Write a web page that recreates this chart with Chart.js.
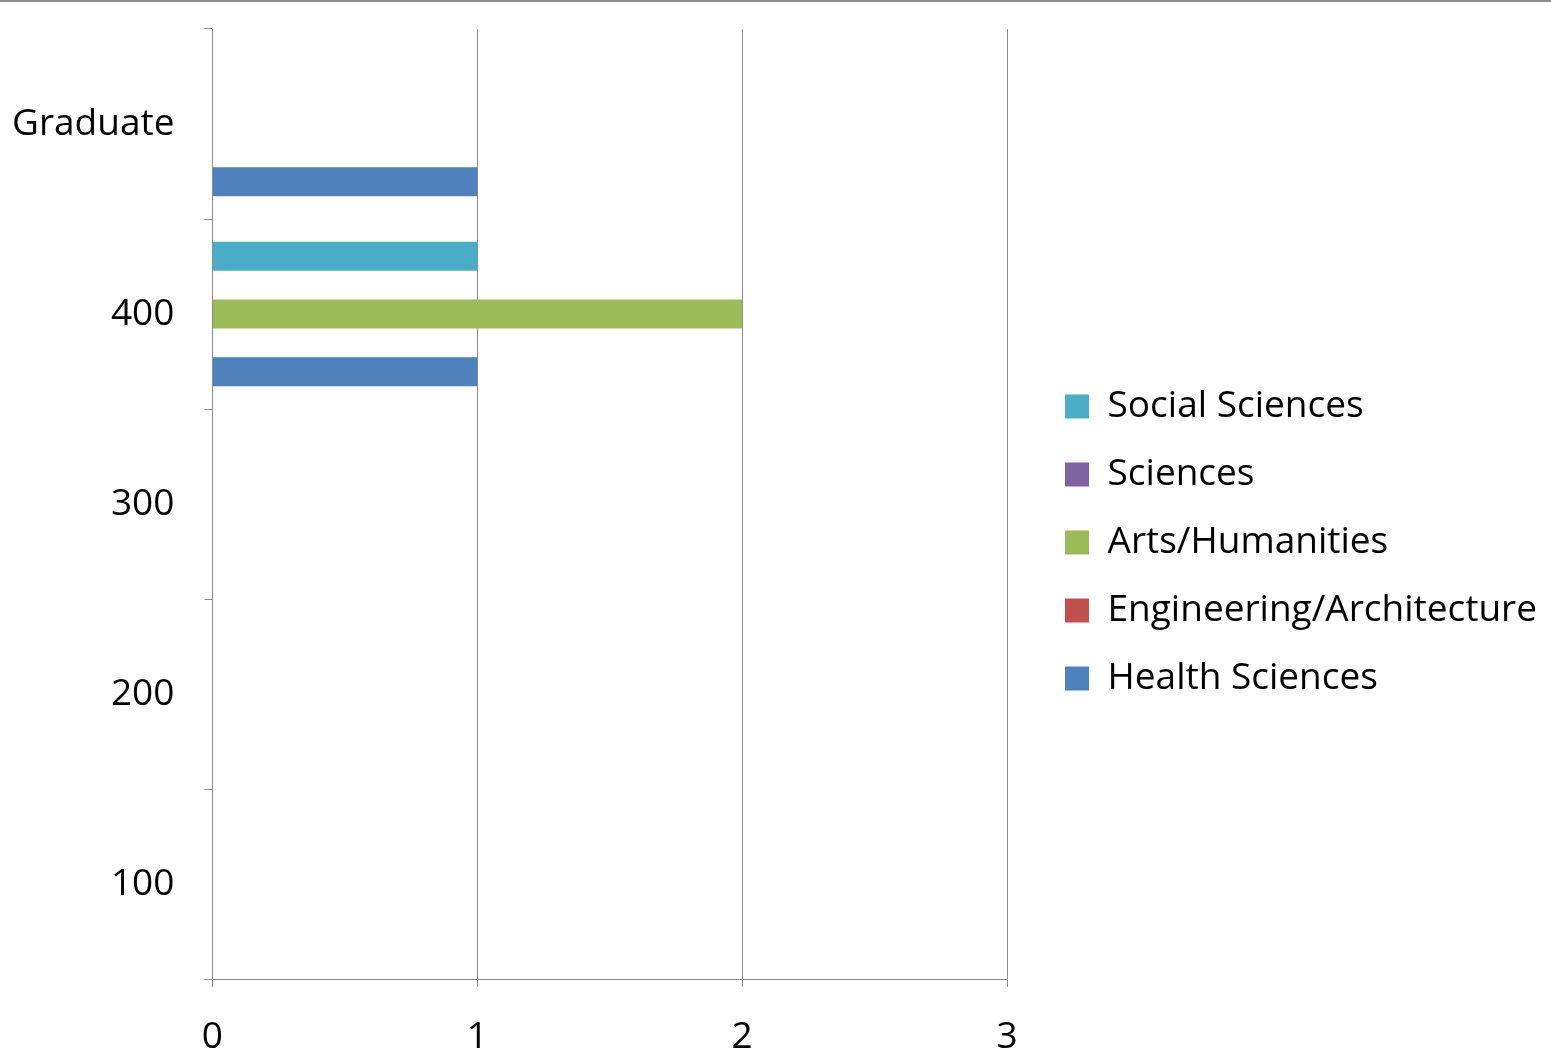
<!DOCTYPE html>
<html>
<head>
    <title>Courses by Level</title>
    <script src="https://cdn.jsdelivr.net/npm/chart.js"></script>
    <style>
        html, body {
            margin: 0;
            padding: 0;
            background: #fff;
        }
        .frame {
            width: 1551px;
            height: 1054px;
            border-top: 2px solid #8c8c8c;
            position: relative;
        }
    </style>
</head>
<body>
    <div class="frame">
        <canvas id="levelChart"></canvas>
    </div>

    <script>
        // Course levels (bottom to top as in the original)
        const levels = ['100', '200', '300', '400', 'Graduate'];

        // Counts per discipline, one value per level
        const healthSciences = [0, 0, 0, 1, 1];
        const engineeringArchitecture = [0, 0, 0, 0, 0];
        const artsHumanities = [0, 0, 0, 2, 0];
        const sciences = [0, 0, 0, 0, 0];
        const socialSciences = [0, 0, 0, 1, 0];

        const xTicks = [0, 1, 2, 3];

        const fontFamily = '"Open Sans", "Liberation Sans", sans-serif';
        const gridColor = '#8c8c8c';

        // listed top-down so Health Sciences sits lowest in each band
        const series = [
            { label: 'Social Sciences', data: socialSciences, color: '#4bacc6' },
            { label: 'Sciences', data: sciences, color: '#8064a2' },
            { label: 'Arts/Humanities', data: artsHumanities, color: '#9bbb59' },
            { label: 'Engineering/Architecture', data: engineeringArchitecture, color: '#c0504d' },
            { label: 'Health Sciences', data: healthSciences, color: '#4f81bd' }
        ];

        const ctx = document.getElementById('levelChart').getContext('2d');
        new Chart(ctx, {
            type: 'bar',
            data: {
                labels: levels,
                datasets: series.map(s => ({
                    label: s.label,
                    data: s.data,
                    yAxisID: 'y',
                    backgroundColor: s.color,
                    borderWidth: 0,
                    barPercentage: 1.0,
                    categoryPercentage: 0.76
                }))
            },
            options: {
                indexAxis: 'y',
                responsive: true,
                maintainAspectRatio: false,
                animation: false,
                layout: {
                    padding: { top: 27, left: 12, right: 4, bottom: 0 }
                },
                plugins: {
                    legend: {
                        position: 'right',
                        maxWidth: 700,
                        labels: {
                            boxWidth: 24,
                            boxHeight: 24,
                            padding: 31,
                            color: '#000',
                            font: { family: fontFamily, size: 37 }
                        }
                    },
                    tooltip: { enabled: false }
                },
                scales: {
                    x: {
                        min: 0,
                        max: 3,
                        afterBuildTicks: axis => {
                            axis.ticks = xTicks.map(v => ({ value: v }));
                        },
                        afterFit: axis => { axis.height = 77; },
                        grid: {
                            color: gridColor,
                            lineWidth: 1,
                            tickLength: 8
                        },
                        border: { color: gridColor, width: 1 },
                        ticks: {
                            color: '#000',
                            padding: 28,
                            font: { family: fontFamily, size: 37 }
                        }
                    },
                    y: {
                        reverse: true,
                        afterFit: axis => {
                            // padding is counted twice in the width, drop the spare one
                            axis.width -= 30;
                            axis.paddingTop = 0;
                            axis.paddingBottom = 0;
                        },
                        grid: {
                            drawOnChartArea: false,
                            color: gridColor,
                            tickLength: 8
                        },
                        border: { color: gridColor, width: 1 },
                        ticks: {
                            color: '#000',
                            padding: 30,
                            font: { family: fontFamily, size: 37 }
                        }
                    },
                    // empty spacer between the plot and the legend
                    yGap: {
                        type: 'category',
                        axis: 'y',
                        position: 'right',
                        display: true,
                        afterFit: axis => {
                            axis.width = 27;
                            axis.paddingTop = 0;
                            axis.paddingBottom = 0;
                        },
                        grid: { display: false, drawTicks: false },
                        border: { display: false },
                        ticks: { display: false }
                    }
                }
            }
        });
    </script>
</body>
</html>
